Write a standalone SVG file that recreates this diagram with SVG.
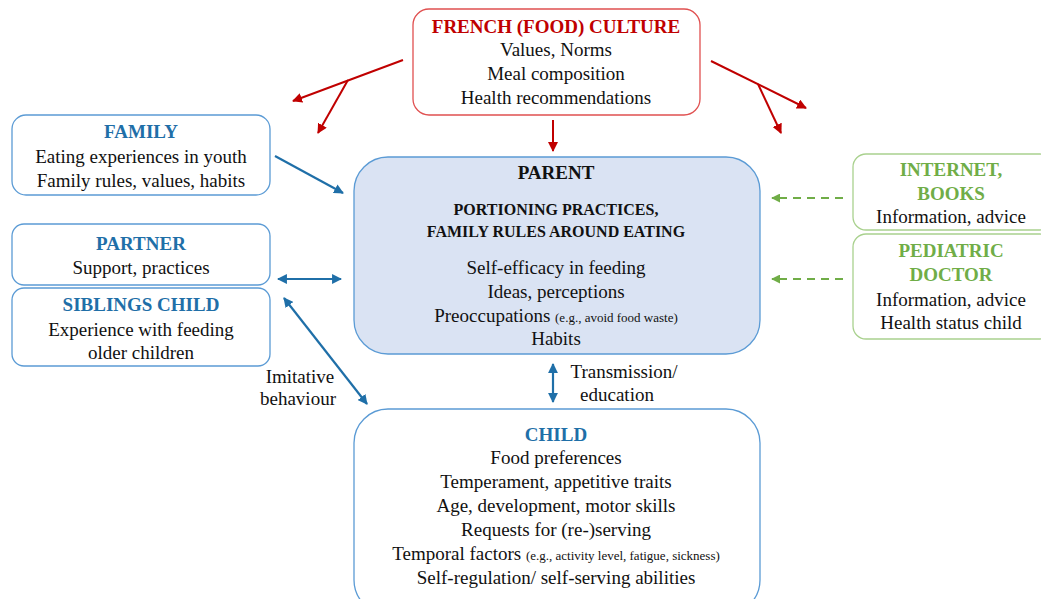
<svg xmlns="http://www.w3.org/2000/svg" width="1041" height="599" viewBox="0 0 1041 599" font-family="Liberation Serif, Times New Roman, serif">
<defs>
<style>
text{font-size:19px;fill:#111;text-anchor:middle}
.t{font-weight:bold}
.red{fill:#c00000}
.blue{fill:#1f6fa8}
.green{fill:#70ad47}
.sm{font-size:13px}
.hd{font-size:16px;font-weight:bold}
.bb{fill:#fff;stroke:#5b9bd5;stroke-width:1.3}
.rb{fill:#fff;stroke:#e05050;stroke-width:1.3}
.gb{fill:#fff;stroke:#a9d18e;stroke-width:1.3}
.rl{stroke:#c00000;stroke-width:2;fill:none}
.bl{stroke:#1f6fa8;stroke-width:2.2;fill:none}
.gl{stroke:#70ad47;stroke-width:2;fill:none;stroke-dasharray:8,6}
</style>
<marker id="ar" viewBox="0 0 10 10" refX="9" refY="5" markerWidth="5" markerHeight="5" orient="auto-start-reverse"><path d="M0,0L10,5L0,10z" fill="#c00000"/></marker>
<marker id="ab" viewBox="0 0 10 10" refX="9" refY="5" markerWidth="4.5" markerHeight="4.5" orient="auto-start-reverse"><path d="M0,0L10,5L0,10z" fill="#1f6fa8"/></marker>
<marker id="ag" viewBox="0 0 10 10" refX="9" refY="5" markerWidth="4.5" markerHeight="4.5" orient="auto-start-reverse"><path d="M0,0L10,5L0,10z" fill="#70ad47"/></marker>
</defs>
<rect width="1041" height="599" fill="#fff"/>
<g id="connectors">
<line class="rl" x1="403" y1="60" x2="293" y2="101" marker-end="url(#ar)"/>
<line class="rl" x1="348" y1="80" x2="318" y2="133" marker-end="url(#ar)"/>
<line class="rl" x1="711" y1="61" x2="806" y2="108" marker-end="url(#ar)"/>
<line class="rl" x1="758" y1="84" x2="781" y2="133" marker-end="url(#ar)"/>
<line class="rl" x1="553" y1="120" x2="553" y2="151" marker-end="url(#ar)"/>
<line class="bl" x1="275" y1="156" x2="343" y2="193" marker-end="url(#ab)"/>
<line class="bl" x1="278" y1="279" x2="341" y2="279" marker-start="url(#ab)" marker-end="url(#ab)"/>
<line class="bl" x1="284" y1="298" x2="367" y2="404" marker-start="url(#ab)" marker-end="url(#ab)"/>
<line class="bl" x1="553" y1="364" x2="553" y2="402" marker-start="url(#ab)" marker-end="url(#ab)"/>
<line class="gl" x1="843" y1="198" x2="772" y2="198" marker-end="url(#ag)"/>
<line class="gl" x1="843" y1="279" x2="772" y2="279" marker-end="url(#ag)"/>
<text x="300" y="383">Imitative</text>
<text x="298" y="405">behaviour</text>
<text x="624" y="378">Transmission/</text>
<text x="617" y="401">education</text>
</g>
<g id="french">
<rect class="rb" x="413" y="9" width="287" height="106" rx="16"/>
<text x="556" y="33" class="t red">FRENCH (FOOD) CULTURE</text>
<text x="556" y="56">Values, Norms</text>
<text x="556" y="80">Meal composition</text>
<text x="556" y="104">Health recommendations</text>
</g>
<g id="family">
<rect class="bb" x="12" y="115" width="258" height="80" rx="14"/>
<text x="141" y="138" class="t blue">FAMILY</text>
<text x="141" y="163">Eating experiences in youth</text>
<text x="141" y="187">Family rules, values, habits</text>
</g>
<g id="partner">
<rect class="bb" x="12" y="224" width="258" height="61" rx="12"/>
<text x="141" y="250" class="t blue">PARTNER</text>
<text x="141" y="274">Support, practices</text>
</g>
<g id="siblings">
<rect class="bb" x="12" y="288" width="258" height="78" rx="12"/>
<text x="141" y="311" class="t blue">SIBLINGS CHILD</text>
<text x="141" y="336">Experience with feeding</text>
<text x="141" y="359">older children</text>
</g>
<g id="parent">
<rect x="354" y="157" width="406" height="197" rx="34" fill="#dae3f3" stroke="#5b9bd5" stroke-width="1.3"/>
<text x="556" y="179" class="t">PARENT</text>
<text x="556" y="215" class="hd">PORTIONING PRACTICES,</text>
<text x="556" y="237" class="hd">FAMILY RULES AROUND EATING</text>
<text x="556" y="274">Self-efficacy in feeding</text>
<text x="556" y="298">Ideas, perceptions</text>
<text x="556" y="322">Preoccupations <tspan class="sm">(e.g., avoid food waste)</tspan></text>
<text x="556" y="345">Habits</text>
</g>
<g id="child">
<rect class="bb" x="354" y="409" width="406" height="205" rx="34"/>
<text x="556" y="441" class="t blue">CHILD</text>
<text x="556" y="464">Food preferences</text>
<text x="556" y="488">Temperament, appetitive traits</text>
<text x="556" y="512">Age, development, motor skills</text>
<text x="556" y="536">Requests for (re-)serving</text>
<text x="556" y="560">Temporal factors <tspan class="sm">(e.g., activity level, fatigue, sickness)</tspan></text>
<text x="556" y="584">Self-regulation/ self-serving abilities</text>
</g>
<g id="internet">
<rect class="gb" x="853" y="154" width="200" height="76" rx="13"/>
<text x="951" y="176" class="t green">INTERNET,</text>
<text x="951" y="200" class="t green">BOOKS</text>
<text x="951" y="223">Information, advice</text>
</g>
<g id="doctor">
<rect class="gb" x="853" y="234" width="200" height="105" rx="13"/>
<text x="951" y="257" class="t green">PEDIATRIC</text>
<text x="951" y="281" class="t green">DOCTOR</text>
<text x="951" y="306">Information, advice</text>
<text x="951" y="329">Health status child</text>
</g>
</svg>
